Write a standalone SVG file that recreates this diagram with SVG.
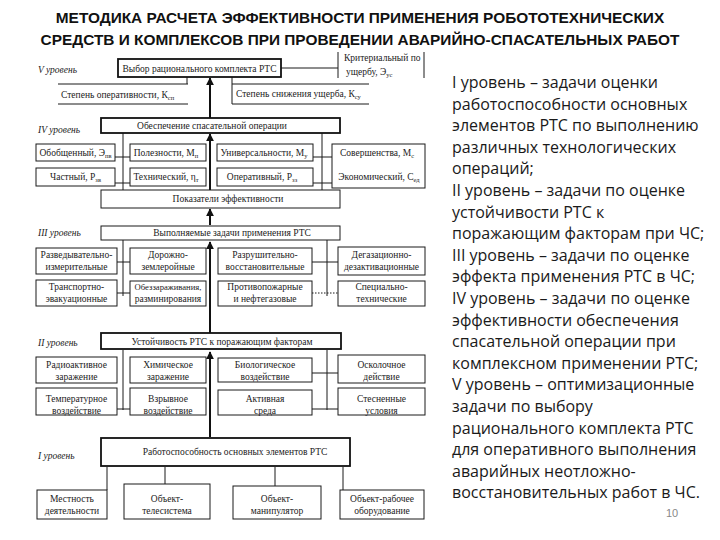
<svg xmlns="http://www.w3.org/2000/svg" width="720" height="540" viewBox="0 0 720 540">
<defs>
<style>
.bx{fill:#fff;stroke:#1a1a1a;stroke-width:1}
.mb{fill:#fff;stroke:#111;stroke-width:1.8}
.ln{stroke:#1a1a1a;stroke-width:1;fill:none}
.ar{stroke:#111;stroke-width:2;fill:none;marker-end:url(#ah)}
.t{font-family:"Liberation Serif","DejaVu Serif",serif;font-size:9.5px;fill:#222;text-anchor:middle}
.tl{font-family:"Liberation Serif","DejaVu Serif",serif;font-size:9.5px;fill:#222}
.lv{font-family:"Liberation Serif","DejaVu Serif",serif;font-size:9.5px;font-style:italic;fill:#222}
.s{font-size:6.5px}
.sm{font-size:8.6px}
.title{font-family:"Liberation Sans","Arial",sans-serif;font-size:15.4px;font-weight:bold;fill:#111;text-anchor:middle}
.rt{font-family:"Open Sans","Noto Sans",sans-serif;font-size:16px;fill:#1a1a1a}
</style>
<marker id="ah" viewBox="0 0 10 10" refX="9" refY="5" markerWidth="4" markerHeight="4" orient="auto" markerUnits="strokeWidth">
<path d="M0,0 L10,5 L0,10 z" fill="#111"/>
</marker>
</defs>
<rect width="720" height="540" fill="#fff"/>

<g id="title">
<text class="title" x="360" y="23">МЕТОДИКА РАСЧЕТА ЭФФЕКТИВНОСТИ ПРИМЕНЕНИЯ РОБОТОТЕХНИЧЕСКИХ</text>
<text class="title" x="360" y="45">СРЕДСТВ И КОМПЛЕКСОВ ПРИ ПРОВЕДЕНИИ АВАРИЙНО-СПАСАТЕЛЬНЫХ РАБОТ</text>
</g>

<g id="connectors">
<path class="ar" d="M210,118 V78"/>
<path class="ar" d="M210,190 V134"/>
<path class="ar" d="M210,225 V209"/>
<path class="ar" d="M210,333 V242"/>
<path class="ar" d="M210,437 V352"/>
<path class="ln" d="M281,68 H338"/>
<path class="ln" d="M187,77 V84"/>
<path class="ln" d="M232,77 V84"/>
<path class="ln" d="M123,133 V190 M322,133 V190"/>
<path class="ln" d="M115,157 H130 M115,183 H130 M313,157 H332 M313,183 H332"/>
<path class="ln" d="M123,240 V296 M327,240 V296"/>
<path class="ln" d="M117,262 H130 M117,293 H130 M312,262 H338"/>
<path class="ln" d="M312,293 H338" stroke-dasharray="1.5,1.5"/>
<path class="ln" d="M123,350 V410 M327,350 V410"/>
<path class="ln" d="M312,373 H338 M117,409 H130 M312,409 H338"/>
<path class="ln" d="M107,467 V490 M165,467 V484 M275,467 V486 M343,467 V490"/>
</g>

<g id="labels">
<text class="lv" x="38" y="73">V уровень</text>
<text class="lv" x="38" y="133">IV уровень</text>
<text class="lv" x="38" y="236">III уровень</text>
<text class="lv" x="38" y="346">II уровень</text>
<text class="lv" x="38" y="459">I уровень</text>
</g>

<g id="n-vybor"><rect class="mb" x="118" y="59" width="163" height="18"/><text class="t" x="199.5" y="71.5">Выбор рационального комплекта РТС</text></g>
<g id="n-kriter"><path class="ln" d="M338,52 V78 M424,52 V78"/><text class="tl" x="344" y="61">Критериальный по</text><text class="tl" x="346" y="75">ущербу,  Э<tspan class="s" dy="2">ус</tspan></text></g>
<g id="n-oper"><path class="ln" d="M58,84 H188 M58,104 H188"/><text class="tl" x="61" y="98">Степень оперативности, К<tspan class="s" dy="2">сп</tspan></text></g>
<g id="n-snizh"><path class="ln" d="M369,84 H232 V104 H369"/><text class="tl" x="236" y="97">Степень снижения ущерба, К<tspan class="s" dy="2">су</tspan></text></g>

<g id="n-obesp"><rect class="mb" x="101" y="118" width="239" height="15"/><text class="t" x="212" y="129">Обеспечение спасательной операции</text></g>
<g id="n-obob"><rect class="bx" x="36" y="144" width="79" height="17"/><text class="t" x="75.5" y="155.5">Обобщенный, Э<tspan class="s" dy="2">пв</tspan></text></g>
<g id="n-polez"><rect class="bx" x="130" y="144" width="76" height="17"/><text class="t" x="166" y="155.5">Полезности, М<tspan class="s" dy="2">п</tspan></text></g>
<g id="n-univ"><rect class="bx" x="217" y="144" width="96" height="17"/><text class="t" x="264" y="155.5">Универсальности, М<tspan class="s" dy="2">у</tspan></text></g>
<g id="n-sover"><rect class="bx" x="332" y="144" width="93" height="44"/><text class="t" x="377" y="156">Совершенства, М<tspan class="s" dy="2">с</tspan></text><text class="t" x="379" y="180">Экономический, С<tspan class="s" dy="2">ед</tspan></text></g>
<g id="n-chast"><rect class="bx" x="36" y="168" width="79" height="18"/><text class="t" x="75.5" y="180">Частный, Р<tspan class="s" dy="2">зв</tspan></text></g>
<g id="n-tekh"><rect class="bx" x="130" y="168" width="76" height="18"/><text class="t" x="166" y="180">Технический, η<tspan class="s" dy="2">т</tspan></text></g>
<g id="n-operat"><rect class="bx" x="217" y="168" width="96" height="18"/><text class="t" x="262" y="180">Оперативный, Р<tspan class="s" dy="2">зз</tspan></text></g>
<g id="n-pokaz"><rect class="bx" x="101" y="190" width="239" height="18" stroke-width="1.3"/><text class="t" x="228" y="202">Показатели эффективности</text></g>

<g id="n-vypoln"><rect class="bx" x="101" y="226" width="239" height="14" stroke-width="1.4"/><text class="t" x="232" y="236">Выполняемые задачи применения РТС</text></g>
<g id="n-razv"><rect class="bx" x="36" y="248" width="81" height="26"/><text class="t" x="76.5" y="258">Разведывательно-</text><text class="t" x="76.5" y="270">измерительные</text></g>
<g id="n-dor"><rect class="bx" x="130" y="248" width="76" height="26"/><text class="t" x="168" y="258">Дорожно-</text><text class="t" x="168" y="270">землеройные</text></g>
<g id="n-razr"><rect class="bx" x="218" y="248" width="94" height="26"/><text class="t" x="265" y="258">Разрушительно-</text><text class="t" x="265" y="270">восстановительные</text></g>
<g id="n-degaz"><rect class="bx" x="338" y="247" width="87" height="28"/><text class="t" x="381.5" y="258">Дегазационно-</text><text class="t" x="381.5" y="270">дезактивационные</text></g>
<g id="n-transp"><rect class="bx" x="36" y="280" width="81" height="26"/><text class="t" x="76.5" y="290">Транспортно-</text><text class="t" x="76.5" y="302">эвакуационные</text></g>
<g id="n-obezz"><rect class="bx" x="130" y="281" width="76" height="25"/><text class="t sm" x="168" y="290">Обеззараживания,</text><text class="t" x="168" y="302">разминирования</text></g>
<g id="n-protiv"><rect class="bx" x="218" y="281" width="94" height="25"/><text class="t" x="265" y="290">Противопожарные</text><text class="t" x="265" y="302">и нефтегазовые</text></g>
<g id="n-spec"><rect class="bx" x="338" y="281" width="87" height="25"/><text class="t" x="381.5" y="290">Специально-</text><text class="t" x="381.5" y="302">технические</text></g>

<g id="n-ustoich"><rect class="mb" x="101" y="333" width="240" height="16"/><text class="t" x="222" y="344.5">Устойчивость РТС к поражающим факторам</text></g>
<g id="n-radio"><rect class="bx" x="36" y="357" width="81" height="26"/><text class="t" x="76.5" y="368">Радиоактивное</text><text class="t" x="76.5" y="380">заражение</text></g>
<g id="n-khim"><rect class="bx" x="130" y="357" width="76" height="26"/><text class="t" x="168" y="368">Химическое</text><text class="t" x="168" y="380">заражение</text></g>
<g id="n-bio"><rect class="bx" x="218" y="358" width="94" height="24"/><text class="t" x="265" y="368">Биологическое</text><text class="t" x="265" y="380">воздействие</text></g>
<g id="n-oskol"><rect class="bx" x="338" y="355" width="87" height="28"/><text class="t" x="381.5" y="368">Осколочное</text><text class="t" x="381.5" y="380">действие</text></g>
<g id="n-temp"><rect class="bx" x="36" y="388" width="81" height="27"/><text class="t" x="76.5" y="402">Температурное</text><text class="t" x="76.5" y="414">воздействие</text></g>
<g id="n-vzryv"><rect class="bx" x="130" y="388" width="76" height="27"/><text class="t" x="168" y="402">Взрывное</text><text class="t" x="168" y="414">воздействие</text></g>
<g id="n-aktiv"><rect class="bx" x="218" y="390" width="94" height="25"/><text class="t" x="265" y="402">Активная</text><text class="t" x="265" y="414">среда</text></g>
<g id="n-stesn"><rect class="bx" x="338" y="388" width="87" height="27"/><text class="t" x="381.5" y="402">Стесненные</text><text class="t" x="381.5" y="414">условия</text></g>

<g id="n-rabot"><rect class="mb" x="101" y="438" width="249" height="28"/><text class="t" x="235" y="455">Работоспособность основных элементов РТС</text></g>
<g id="n-mestn"><rect class="bx" x="37" y="490" width="70" height="29"/><text class="t" x="72" y="502">Местность</text><text class="t" x="72" y="514">деятельности</text></g>
<g id="n-teles"><rect class="bx" x="124" y="484" width="86" height="35"/><text class="t" x="167" y="502">Объект-</text><text class="t" x="167" y="514">телесистема</text></g>
<g id="n-manip"><rect class="bx" x="233" y="486" width="88" height="33"/><text class="t" x="277" y="502">Объект-</text><text class="t" x="277" y="514">манипулятор</text></g>
<g id="n-rabob"><rect class="bx" x="340" y="490" width="84" height="29"/><text class="t" x="382" y="502">Объект-рабочее</text><text class="t" x="382" y="514">оборудование</text></g>

<g id="description">
<text class="rt" x="452" y="88">I уровень – задачи оценки<tspan x="452" dy="21.6">работоспособности основных</tspan><tspan x="452" dy="21.6">элементов РТС по выполнению</tspan><tspan x="452" dy="21.6">различных технологических</tspan><tspan x="452" dy="21.6">операций;</tspan><tspan x="452" dy="21.6">II уровень – задачи по оценке</tspan><tspan x="452" dy="21.6">устойчивости РТС к</tspan><tspan x="452" dy="21.6">поражающим факторам при ЧС;</tspan><tspan x="452" dy="21.6">III уровень – задачи по оценке</tspan><tspan x="452" dy="21.6">эффекта применения РТС в ЧС;</tspan><tspan x="452" dy="21.6">IV уровень – задачи по оценке</tspan><tspan x="452" dy="21.6">эффективности обеспечения</tspan><tspan x="452" dy="21.6">спасательной операции при</tspan><tspan x="452" dy="21.6">комплексном применении РТС;</tspan><tspan x="452" dy="21.6">V уровень – оптимизационные</tspan><tspan x="452" dy="21.6">задачи по выбору</tspan><tspan x="452" dy="21.6">рационального комплекта РТС</tspan><tspan x="452" dy="21.6">для оперативного выполнения</tspan><tspan x="452" dy="21.6">аварийных неотложно-</tspan><tspan x="452" dy="21.6">восстановительных работ в ЧС.</tspan></text>
<text x="672" y="517" font-family="Liberation Sans, Arial, sans-serif" font-size="11" fill="#888" text-anchor="middle">10</text>
</g>
</svg>
